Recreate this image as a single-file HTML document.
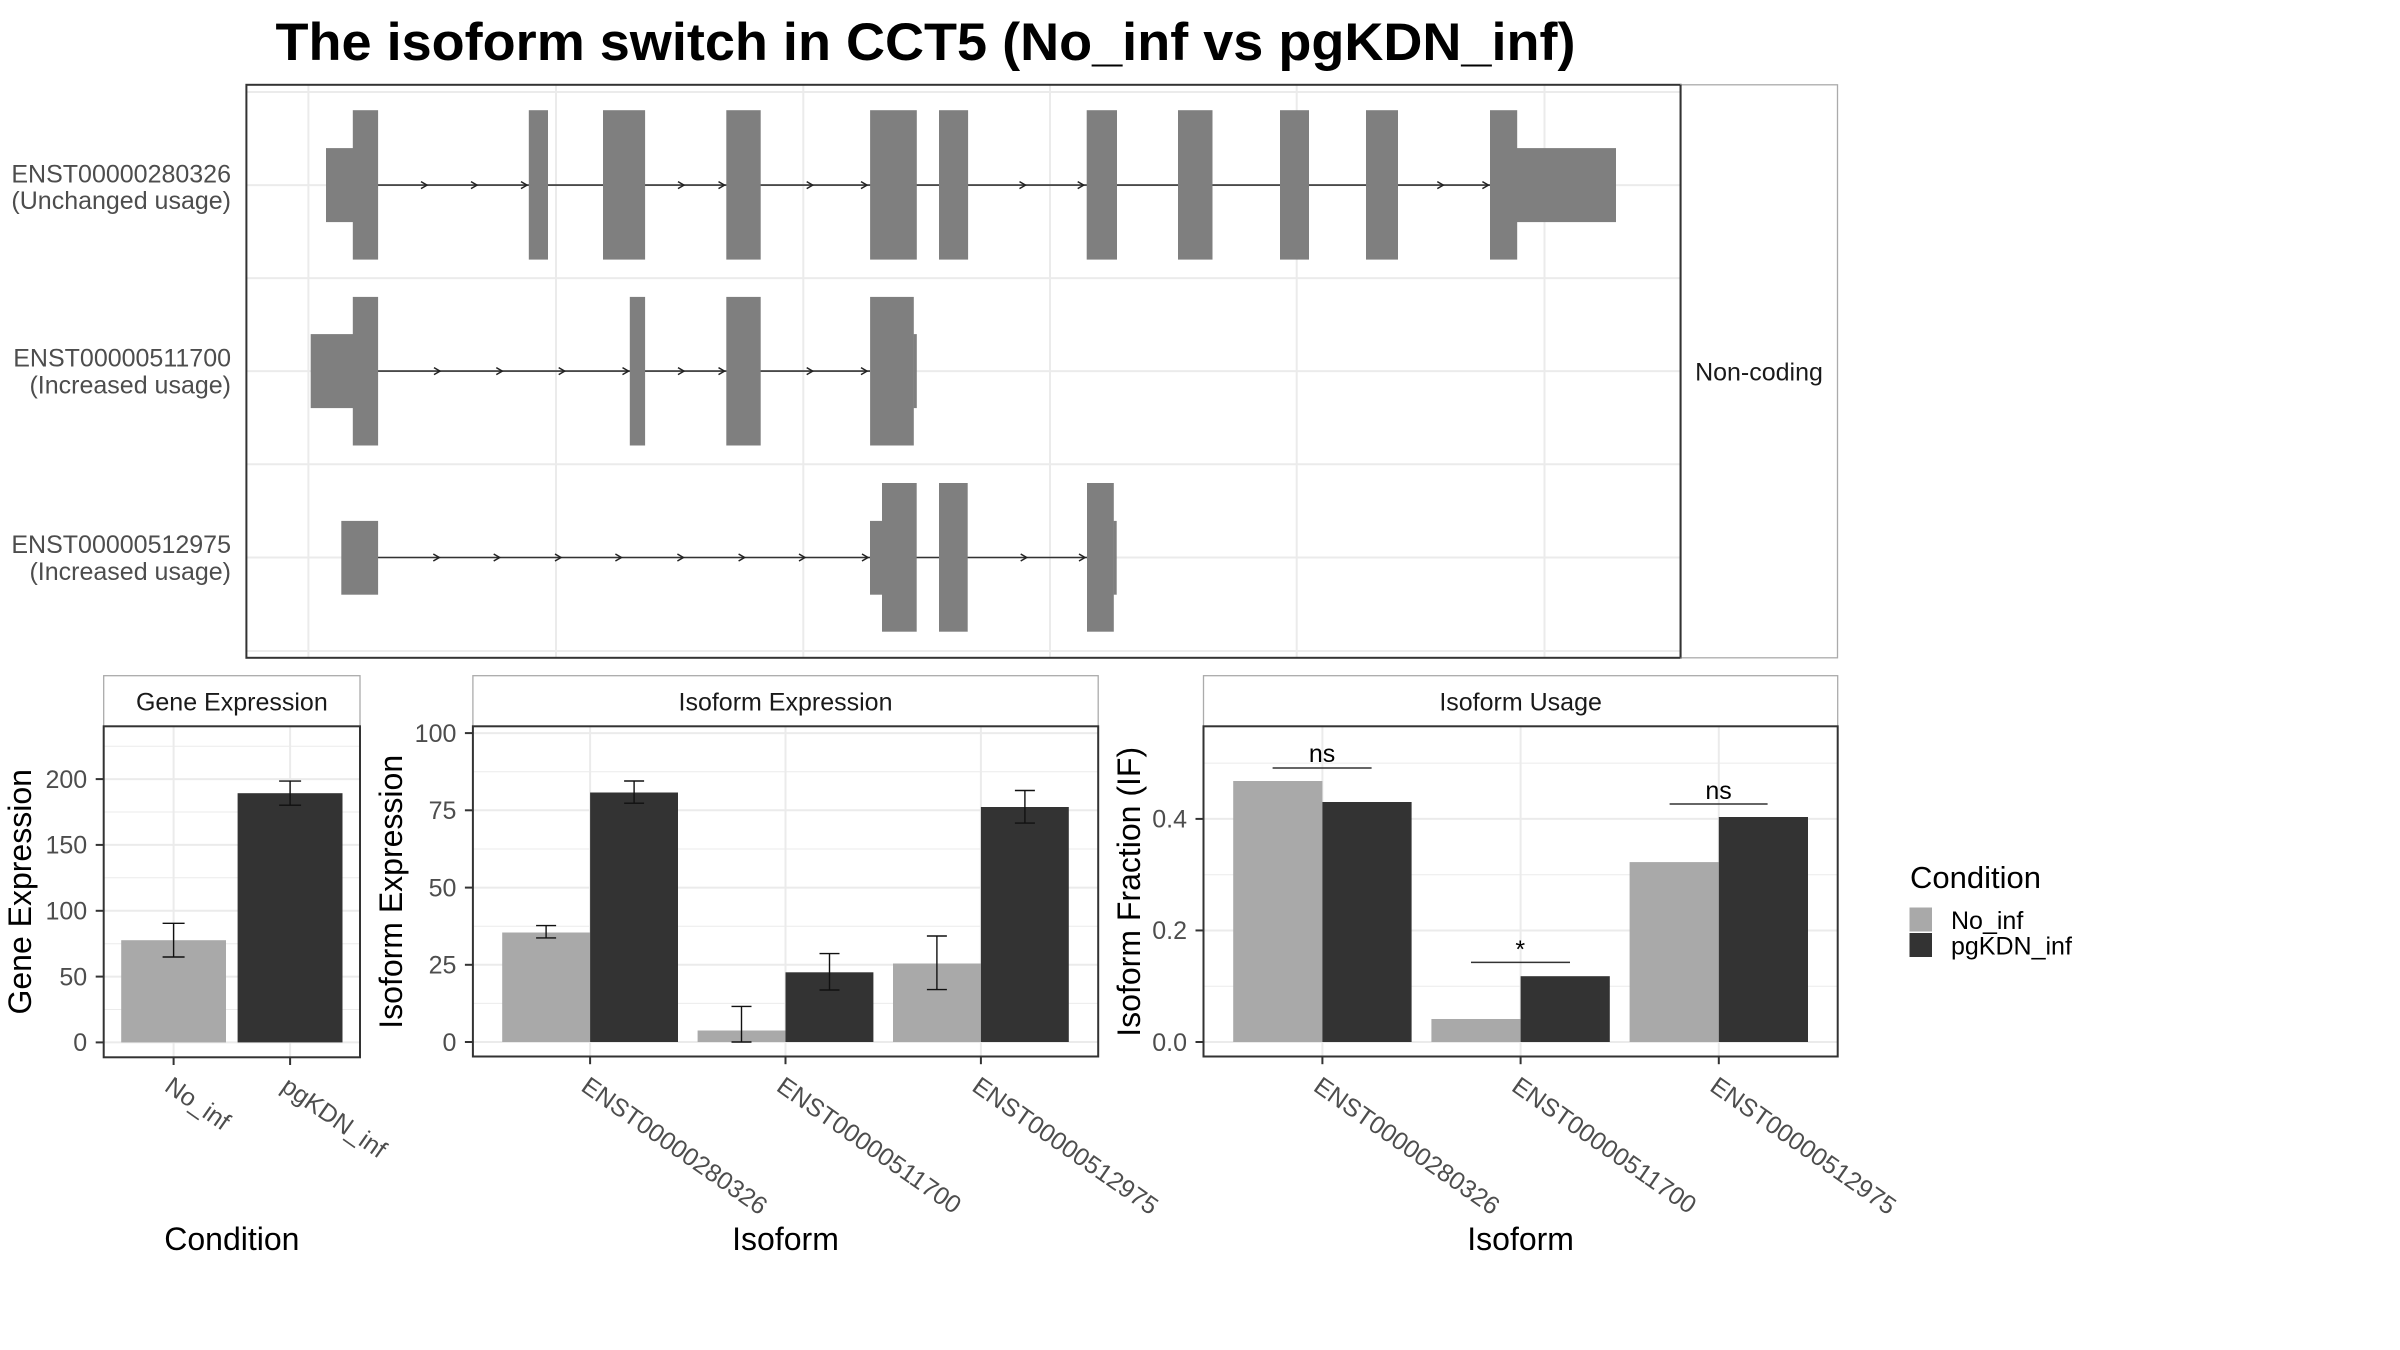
<!DOCTYPE html>
<html>
<head>
<meta charset="utf-8">
<style>
html,body{margin:0;padding:0;background:#fff;}
svg{display:block;}
text{font-family:"Liberation Sans",Arial,sans-serif;}
</style>
</head>
<body>
<svg width="2400" height="1350" viewBox="0 0 2400 1350" xmlns="http://www.w3.org/2000/svg">
<rect x="0" y="0" width="2400" height="1350" fill="#ffffff"/>

<!-- Title -->
<text x="275.5" y="60" font-size="53" font-weight="bold" fill="#000" textLength="1300" lengthAdjust="spacingAndGlyphs">The isoform switch in CCT5 (No_inf vs pgKDN_inf)</text>

<!-- ===== TOP PANEL ===== -->
<g>
  <rect x="246.4" y="84.8" width="1434.2" height="573" fill="#fff"/>
  <g stroke="#EBEBEB" stroke-width="2" fill="none">
    <line x1="246.4" x2="1680.6" y1="92" y2="92"/>
    <line x1="246.4" x2="1680.6" y1="185.1" y2="185.1"/>
    <line x1="246.4" x2="1680.6" y1="278.1" y2="278.1"/>
    <line x1="246.4" x2="1680.6" y1="371.1" y2="371.1"/>
    <line x1="246.4" x2="1680.6" y1="464.3" y2="464.3"/>
    <line x1="246.4" x2="1680.6" y1="557.5" y2="557.5"/>
    <line x1="246.4" x2="1680.6" y1="651" y2="651"/>
    <line x1="308.4" x2="308.4" y1="84.8" y2="657.8"/>
    <line x1="556" x2="556" y1="84.8" y2="657.8"/>
    <line x1="803.3" x2="803.3" y1="84.8" y2="657.8"/>
    <line x1="1050" x2="1050" y1="84.8" y2="657.8"/>
    <line x1="1296.7" x2="1296.7" y1="84.8" y2="657.8"/>
    <line x1="1544.5" x2="1544.5" y1="84.8" y2="657.8"/>
  </g>
  <g stroke="#333" stroke-width="1.6">
    <line x1="378" x2="1490" y1="185.1" y2="185.1"/>
    <line x1="378" x2="870" y1="371.1" y2="371.1"/>
    <line x1="378" x2="1087" y1="557.5" y2="557.5"/>
  </g>
  <g stroke="#222" stroke-width="1.5" fill="none">
    <path d="M421,181.6 L427,185.1 L421,188.6"/>
    <path d="M471,181.6 L477,185.1 L471,188.6"/>
    <path d="M521,181.6 L527,185.1 L521,188.6"/>
    <path d="M678,181.6 L684,185.1 L678,188.6"/>
    <path d="M718.5,181.6 L724.5,185.1 L718.5,188.6"/>
    <path d="M806.7,181.6 L812.7,185.1 L806.7,188.6"/>
    <path d="M861,181.6 L867,185.1 L861,188.6"/>
    <path d="M1019.5,181.6 L1025.5,185.1 L1019.5,188.6"/>
    <path d="M1077.7,181.6 L1083.7,185.1 L1077.7,188.6"/>
    <path d="M1437.3,181.6 L1443.3,185.1 L1437.3,188.6"/>
    <path d="M1482.4,181.6 L1488.4,185.1 L1482.4,188.6"/>

    <path d="M434,367.6 L440,371.1 L434,374.6"/>
    <path d="M496.3,367.6 L502.3,371.1 L496.3,374.6"/>
    <path d="M558.7,367.6 L564.7,371.1 L558.7,374.6"/>
    <path d="M622.5,367.6 L628.5,371.1 L622.5,374.6"/>
    <path d="M678,367.6 L684,371.1 L678,374.6"/>
    <path d="M718.5,367.6 L724.5,371.1 L718.5,374.6"/>
    <path d="M806.7,367.6 L812.7,371.1 L806.7,374.6"/>
    <path d="M861,367.6 L867,371.1 L861,374.6"/>

    <path d="M433.3,554 L439.3,557.5 L433.3,561"/>
    <path d="M493.7,554 L499.7,557.5 L493.7,561"/>
    <path d="M555,554 L561,557.5 L555,561"/>
    <path d="M615.4,554 L621.4,557.5 L615.4,561"/>
    <path d="M677.4,554 L683.4,557.5 L677.4,561"/>
    <path d="M738.6,554 L744.6,557.5 L738.6,561"/>
    <path d="M799,554 L805,557.5 L799,561"/>
    <path d="M862,554 L868,557.5 L862,561"/>
    <path d="M1020.7,554 L1026.7,557.5 L1020.7,561"/>
    <path d="M1079,554 L1085,557.5 L1079,561"/>
  </g>
  <g fill="#7F7F7F">
    <rect x="326" y="148.1" width="27" height="74"/>
    <rect x="352.8" y="110.2" width="25.3" height="149.4"/>
    <rect x="528.8" y="110.2" width="19.2" height="149.4"/>
    <rect x="603" y="110.2" width="42.1" height="149.4"/>
    <rect x="726.3" y="110.2" width="34.4" height="149.4"/>
    <rect x="870.1" y="110.2" width="46.7" height="149.4"/>
    <rect x="939" y="110.2" width="29.1" height="149.4"/>
    <rect x="1086.7" y="110.2" width="30.3" height="149.4"/>
    <rect x="1178" y="110.2" width="34.5" height="149.4"/>
    <rect x="1280" y="110.2" width="29" height="149.4"/>
    <rect x="1366" y="110.2" width="32" height="149.4"/>
    <rect x="1490" y="110.2" width="27.2" height="149.4"/>
    <rect x="1517" y="148.1" width="99" height="74"/>
    <rect x="310.7" y="334.1" width="42.3" height="74"/>
    <rect x="352.8" y="296.9" width="25.3" height="148.6"/>
    <rect x="629.8" y="296.9" width="15.3" height="148.6"/>
    <rect x="726.3" y="296.9" width="34.4" height="148.6"/>
    <rect x="870.1" y="296.9" width="43.7" height="148.6"/>
    <rect x="913.6" y="334.1" width="3.2" height="74"/>
    <rect x="341.3" y="520.9" width="36.8" height="73.8"/>
    <rect x="870" y="520.9" width="12.2" height="73.8"/>
    <rect x="882" y="483" width="34.7" height="148.7"/>
    <rect x="939" y="483" width="28.7" height="148.7"/>
    <rect x="1087" y="483" width="26.8" height="148.7"/>
    <rect x="1113.6" y="520.9" width="3.1" height="73.8"/>
  </g>
  <rect x="246.4" y="84.8" width="1434.2" height="573" fill="none" stroke="#333" stroke-width="2"/>
  <rect x="1680.6" y="84.8" width="156.9" height="573" fill="#fff" stroke="#ABABAB" stroke-width="1.3"/>
  <line x1="1680.6" x2="1680.6" y1="84.8" y2="657.8" stroke="#333" stroke-width="2"/>
  <text x="1759" y="380.4" font-size="25" fill="#1A1A1A" text-anchor="middle">Non-coding</text>
  <g font-size="25" fill="#4D4D4D" text-anchor="end">
    <text x="231" y="182.5">ENST00000280326</text>
    <text x="231" y="209.2">(Unchanged usage)</text>
    <text x="231" y="366.7">ENST00000511700</text>
    <text x="231" y="393.4">(Increased usage)</text>
    <text x="231" y="553.1">ENST00000512975</text>
    <text x="231" y="579.8">(Increased usage)</text>
  </g>
</g>

<!-- ===== GENE EXPRESSION ===== -->
<g>
  <rect x="103.7" y="675.7" width="256.3" height="50.6" fill="#fff" stroke="#ABABAB" stroke-width="1.3"/>
  <text x="231.85" y="710.3" font-size="25" fill="#1A1A1A" text-anchor="middle">Gene Expression</text>
  <g stroke="#EBEBEB" fill="none">
    <line x1="103.7" x2="360" y1="1009.5" y2="1009.5" stroke-width="1"/>
    <line x1="103.7" x2="360" y1="943.7" y2="943.7" stroke-width="1"/>
    <line x1="103.7" x2="360" y1="877.8" y2="877.8" stroke-width="1"/>
    <line x1="103.7" x2="360" y1="812" y2="812" stroke-width="1"/>
    <line x1="103.7" x2="360" y1="746.2" y2="746.2" stroke-width="1"/>
    <line x1="103.7" x2="360" y1="1042.4" y2="1042.4" stroke-width="2"/>
    <line x1="103.7" x2="360" y1="976.6" y2="976.6" stroke-width="2"/>
    <line x1="103.7" x2="360" y1="910.8" y2="910.8" stroke-width="2"/>
    <line x1="103.7" x2="360" y1="844.9" y2="844.9" stroke-width="2"/>
    <line x1="103.7" x2="360" y1="779.1" y2="779.1" stroke-width="2"/>
    <line x1="173.6" x2="173.6" y1="726.3" y2="1057.3" stroke-width="2"/>
    <line x1="290.1" x2="290.1" y1="726.3" y2="1057.3" stroke-width="2"/>
  </g>
  <rect x="121.2" y="940.2" width="104.8" height="102.2" fill="#A9A9A9"/>
  <rect x="237.6" y="793.2" width="104.9" height="249.2" fill="#333333"/>
  <g stroke="#111" stroke-width="1.4" fill="none">
    <line x1="173.6" x2="173.6" y1="923.3" y2="957"/>
    <line x1="162.6" x2="184.6" y1="923.3" y2="923.3"/>
    <line x1="162.6" x2="184.6" y1="957" y2="957"/>
    <line x1="290.1" x2="290.1" y1="781.1" y2="805.2"/>
    <line x1="279.1" x2="301.1" y1="781.1" y2="781.1"/>
    <line x1="279.1" x2="301.1" y1="805.2" y2="805.2"/>
  </g>
  <rect x="103.7" y="726.3" width="256.3" height="331" fill="none" stroke="#333" stroke-width="2"/>
  <g stroke="#333" stroke-width="2">
    <line x1="95.7" x2="103.7" y1="1042.4" y2="1042.4"/>
    <line x1="95.7" x2="103.7" y1="976.6" y2="976.6"/>
    <line x1="95.7" x2="103.7" y1="910.8" y2="910.8"/>
    <line x1="95.7" x2="103.7" y1="844.9" y2="844.9"/>
    <line x1="95.7" x2="103.7" y1="779.1" y2="779.1"/>
    <line x1="173.6" x2="173.6" y1="1057.3" y2="1065"/>
    <line x1="290.1" x2="290.1" y1="1057.3" y2="1065"/>
  </g>
  <g font-size="25" fill="#4D4D4D" text-anchor="end">
    <text x="87.2" y="1051.2">0</text>
    <text x="87.2" y="985.4">50</text>
    <text x="87.2" y="919.6">100</text>
    <text x="87.2" y="853.7">150</text>
    <text x="87.2" y="787.9">200</text>
  </g>
  <g font-size="25" fill="#4D4D4D">
    <text transform="translate(173.6,1075) rotate(35)" y="18">No_inf</text>
    <text transform="translate(290.1,1075) rotate(35)" y="18">pgKDN_inf</text>
  </g>
  <text transform="translate(31,891.8) rotate(-90)" font-size="32" fill="#000" text-anchor="middle">Gene Expression</text>
  <text x="231.85" y="1250" font-size="32" fill="#000" text-anchor="middle">Condition</text>
</g>

<!-- ===== ISOFORM EXPRESSION ===== -->
<g>
  <rect x="472.9" y="675.7" width="625.3" height="50.6" fill="#fff" stroke="#ABABAB" stroke-width="1.3"/>
  <text x="785.5" y="710.3" font-size="25" fill="#1A1A1A" text-anchor="middle">Isoform Expression</text>
  <g stroke="#EBEBEB" fill="none">
    <line x1="472.9" x2="1098.2" y1="1003.4" y2="1003.4" stroke-width="1"/>
    <line x1="472.9" x2="1098.2" y1="926.2" y2="926.2" stroke-width="1"/>
    <line x1="472.9" x2="1098.2" y1="849" y2="849" stroke-width="1"/>
    <line x1="472.9" x2="1098.2" y1="771.8" y2="771.8" stroke-width="1"/>
    <line x1="472.9" x2="1098.2" y1="1042" y2="1042" stroke-width="2"/>
    <line x1="472.9" x2="1098.2" y1="964.8" y2="964.8" stroke-width="2"/>
    <line x1="472.9" x2="1098.2" y1="887.6" y2="887.6" stroke-width="2"/>
    <line x1="472.9" x2="1098.2" y1="810.3" y2="810.3" stroke-width="2"/>
    <line x1="472.9" x2="1098.2" y1="733.1" y2="733.1" stroke-width="2"/>
    <line x1="590.1" x2="590.1" y1="726.3" y2="1056.5" stroke-width="2"/>
    <line x1="785.5" x2="785.5" y1="726.3" y2="1056.5" stroke-width="2"/>
    <line x1="980.9" x2="980.9" y1="726.3" y2="1056.5" stroke-width="2"/>
  </g>
  <g fill="#A9A9A9">
    <rect x="502.2" y="932.5" width="87.9" height="109.5"/>
    <rect x="697.6" y="1030.5" width="87.9" height="11.5"/>
    <rect x="893" y="963.5" width="87.9" height="78.5"/>
  </g>
  <g fill="#333333">
    <rect x="590.1" y="792.5" width="87.9" height="249.5"/>
    <rect x="785.5" y="972.3" width="87.9" height="69.7"/>
    <rect x="980.9" y="807" width="87.9" height="235"/>
  </g>
  <g stroke="#111" stroke-width="1.4" fill="none">
    <line x1="546.1" x2="546.1" y1="925.6" y2="937.9"/>
    <line x1="536.1" x2="556.1" y1="925.6" y2="925.6"/>
    <line x1="536.1" x2="556.1" y1="937.9" y2="937.9"/>
    <line x1="634.1" x2="634.1" y1="781" y2="803.2"/>
    <line x1="624.1" x2="644.1" y1="781" y2="781"/>
    <line x1="624.1" x2="644.1" y1="803.2" y2="803.2"/>
    <line x1="741.5" x2="741.5" y1="1006.4" y2="1042"/>
    <line x1="731.5" x2="751.5" y1="1006.4" y2="1006.4"/>
    <line x1="731.5" x2="751.5" y1="1042" y2="1042"/>
    <line x1="829.5" x2="829.5" y1="953.6" y2="990"/>
    <line x1="819.5" x2="839.5" y1="953.6" y2="953.6"/>
    <line x1="819.5" x2="839.5" y1="990" y2="990"/>
    <line x1="936.9" x2="936.9" y1="936" y2="989.6"/>
    <line x1="926.9" x2="946.9" y1="936" y2="936"/>
    <line x1="926.9" x2="946.9" y1="989.6" y2="989.6"/>
    <line x1="1024.9" x2="1024.9" y1="790.5" y2="823.1"/>
    <line x1="1014.9" x2="1034.9" y1="790.5" y2="790.5"/>
    <line x1="1014.9" x2="1034.9" y1="823.1" y2="823.1"/>
  </g>
  <rect x="472.9" y="726.3" width="625.3" height="330.2" fill="none" stroke="#333" stroke-width="2"/>
  <g stroke="#333" stroke-width="2">
    <line x1="464.9" x2="472.9" y1="1042" y2="1042"/>
    <line x1="464.9" x2="472.9" y1="964.8" y2="964.8"/>
    <line x1="464.9" x2="472.9" y1="887.6" y2="887.6"/>
    <line x1="464.9" x2="472.9" y1="810.3" y2="810.3"/>
    <line x1="464.9" x2="472.9" y1="733.1" y2="733.1"/>
    <line x1="590.1" x2="590.1" y1="1056.5" y2="1064.2"/>
    <line x1="785.5" x2="785.5" y1="1056.5" y2="1064.2"/>
    <line x1="980.9" x2="980.9" y1="1056.5" y2="1064.2"/>
  </g>
  <g font-size="25" fill="#4D4D4D" text-anchor="end">
    <text x="456.4" y="1050.8">0</text>
    <text x="456.4" y="973.6">25</text>
    <text x="456.4" y="896.4">50</text>
    <text x="456.4" y="819.1">75</text>
    <text x="456.4" y="741.9">100</text>
  </g>
  <g font-size="25" fill="#4D4D4D">
    <text transform="translate(590.1,1075) rotate(35)" y="18">ENST00000280326</text>
    <text transform="translate(785.5,1075) rotate(35)" y="18">ENST00000511700</text>
    <text transform="translate(980.9,1075) rotate(35)" y="18">ENST00000512975</text>
  </g>
  <text transform="translate(402,891.8) rotate(-90)" font-size="32" fill="#000" text-anchor="middle">Isoform Expression</text>
  <text x="785.5" y="1250" font-size="32" fill="#000" text-anchor="middle">Isoform</text>
</g>

<!-- ===== ISOFORM USAGE ===== -->
<g>
  <rect x="1203.5" y="675.7" width="634.2" height="50.6" fill="#fff" stroke="#ABABAB" stroke-width="1.3"/>
  <text x="1520.6" y="710.3" font-size="25" fill="#1A1A1A" text-anchor="middle">Isoform Usage</text>
  <g stroke="#EBEBEB" fill="none">
    <line x1="1203.5" x2="1837.7" y1="986.2" y2="986.2" stroke-width="1"/>
    <line x1="1203.5" x2="1837.7" y1="874.7" y2="874.7" stroke-width="1"/>
    <line x1="1203.5" x2="1837.7" y1="763.1" y2="763.1" stroke-width="1"/>
    <line x1="1203.5" x2="1837.7" y1="1042" y2="1042" stroke-width="2"/>
    <line x1="1203.5" x2="1837.7" y1="930.45" y2="930.45" stroke-width="2"/>
    <line x1="1203.5" x2="1837.7" y1="818.9" y2="818.9" stroke-width="2"/>
    <line x1="1322.4" x2="1322.4" y1="726.3" y2="1056.5" stroke-width="2"/>
    <line x1="1520.6" x2="1520.6" y1="726.3" y2="1056.5" stroke-width="2"/>
    <line x1="1718.8" x2="1718.8" y1="726.3" y2="1056.5" stroke-width="2"/>
  </g>
  <g fill="#A9A9A9">
    <rect x="1233.2" y="781" width="89.2" height="261"/>
    <rect x="1431.4" y="1019" width="89.2" height="23"/>
    <rect x="1629.6" y="862.1" width="89.2" height="179.9"/>
  </g>
  <g fill="#333333">
    <rect x="1322.4" y="802" width="89.2" height="240"/>
    <rect x="1520.6" y="976.2" width="89.2" height="65.8"/>
    <rect x="1718.8" y="817" width="89.2" height="225"/>
  </g>
  <g stroke="#333" stroke-width="1.5">
    <line x1="1272.6" x2="1371.6" y1="768" y2="768"/>
    <line x1="1471" x2="1570" y1="962.4" y2="962.4"/>
    <line x1="1669.6" x2="1767.6" y1="804" y2="804"/>
  </g>
  <g font-size="25" fill="#000" text-anchor="middle">
    <text x="1322.1" y="762">ns</text>
    <text x="1520.3" y="958">*</text>
    <text x="1718.6" y="799">ns</text>
  </g>
  <rect x="1203.5" y="726.3" width="634.2" height="330.2" fill="none" stroke="#333" stroke-width="2"/>
  <g stroke="#333" stroke-width="2">
    <line x1="1195.5" x2="1203.5" y1="1042" y2="1042"/>
    <line x1="1195.5" x2="1203.5" y1="930.45" y2="930.45"/>
    <line x1="1195.5" x2="1203.5" y1="818.9" y2="818.9"/>
    <line x1="1322.4" x2="1322.4" y1="1056.5" y2="1064.2"/>
    <line x1="1520.6" x2="1520.6" y1="1056.5" y2="1064.2"/>
    <line x1="1718.8" x2="1718.8" y1="1056.5" y2="1064.2"/>
  </g>
  <g font-size="25" fill="#4D4D4D" text-anchor="end">
    <text x="1187" y="1050.8">0.0</text>
    <text x="1187" y="939.2">0.2</text>
    <text x="1187" y="827.7">0.4</text>
  </g>
  <g font-size="25" fill="#4D4D4D">
    <text transform="translate(1322.4,1075) rotate(35)" y="18">ENST00000280326</text>
    <text transform="translate(1520.6,1075) rotate(35)" y="18">ENST00000511700</text>
    <text transform="translate(1718.8,1075) rotate(35)" y="18">ENST00000512975</text>
  </g>
  <text transform="translate(1140,891.8) rotate(-90)" font-size="32" fill="#000" text-anchor="middle">Isoform Fraction (IF)</text>
  <text x="1520.6" y="1250" font-size="32" fill="#000" text-anchor="middle">Isoform</text>
</g>

<!-- ===== LEGEND ===== -->
<g>
  <text x="1910" y="888" font-size="31" fill="#000">Condition</text>
  <rect x="1909.5" y="907.5" width="22.5" height="24" fill="#A9A9A9"/>
  <rect x="1909.5" y="933" width="22.5" height="24" fill="#333333"/>
  <text x="1951" y="929" font-size="25" fill="#000">No_inf</text>
  <text x="1951" y="954.5" font-size="25" fill="#000">pgKDN_inf</text>
</g>
</svg>
</body>
</html>
